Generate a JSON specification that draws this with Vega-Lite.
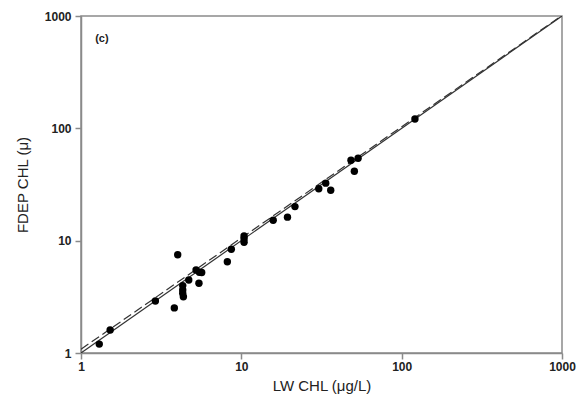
{
  "$schema": "https://vega.github.io/schema/vega-lite/v6.json",
  "autosize": "none",
  "width": 481,
  "height": 337,
  "padding": {"left": 81, "top": 16, "right": 16, "bottom": 59},
  "background": "white",
  "config": {
    "view": {"stroke": "#8a8a8a", "strokeWidth": 1.5},
    "font": "Liberation Sans",
    "axis": {
      "grid": false,
      "domainColor": "#8a8a8a",
      "domainWidth": 1.5,
      "tickColor": "#8a8a8a",
      "tickWidth": 1.5,
      "tickSize": 6,
      "labelFont": "Liberation Sans",
      "labelFontSize": 12,
      "labelFontWeight": "bold",
      "labelColor": "#222222",
      "titleFont": "Liberation Sans",
      "titleFontSize": 15,
      "titleFontWeight": "normal",
      "titleColor": "#222222"
    }
  },
  "datasets": {
    "pts": [
      {"lw": 1.30, "fdep": 1.20},
      {"lw": 1.52, "fdep": 1.60},
      {"lw": 2.91, "fdep": 2.90},
      {"lw": 3.82, "fdep": 2.52},
      {"lw": 4.01, "fdep": 7.50},
      {"lw": 4.31, "fdep": 3.98},
      {"lw": 4.31, "fdep": 3.64},
      {"lw": 4.31, "fdep": 3.40},
      {"lw": 4.35, "fdep": 3.17},
      {"lw": 4.70, "fdep": 4.47},
      {"lw": 5.22, "fdep": 5.48},
      {"lw": 5.47, "fdep": 5.23},
      {"lw": 5.66, "fdep": 5.20},
      {"lw": 5.44, "fdep": 4.18},
      {"lw": 8.18, "fdep": 6.50},
      {"lw": 8.66, "fdep": 8.38},
      {"lw": 10.4, "fdep": 11.0},
      {"lw": 10.4, "fdep": 10.4},
      {"lw": 10.4, "fdep": 9.68},
      {"lw": 15.8, "fdep": 15.2},
      {"lw": 19.4, "fdep": 16.2},
      {"lw": 21.6, "fdep": 20.1},
      {"lw": 30.4, "fdep": 29.0},
      {"lw": 33.6, "fdep": 32.5},
      {"lw": 36.1, "fdep": 28.1},
      {"lw": 48.3, "fdep": 52.0},
      {"lw": 53.5, "fdep": 54.2},
      {"lw": 50.7, "fdep": 41.5},
      {"lw": 121, "fdep": 121}
    ],
    "lines": [
      {"line": "1:1", "lw": 1, "fdep": 1},
      {"line": "1:1", "lw": 1000, "fdep": 1000},
      {"line": "fit", "lw": 1, "fdep": 1.08},
      {"line": "fit", "lw": 1000, "fdep": 1010}
    ],
    "label": [{"lw": 1.35, "fdep": 625, "text": "(c)"}]
  },
  "encoding": {
    "x": {
      "field": "lw", "type": "quantitative",
      "scale": {"type": "log", "domain": [1, 1000], "nice": false},
      "axis": {"values": [1, 10, 100, 1000], "format": "d", "title": "LW CHL (μg/L)", "labelPadding": 2, "titlePadding": 6, "labelFlush": false}
    },
    "y": {
      "field": "fdep", "type": "quantitative",
      "scale": {"type": "log", "domain": [1, 1000], "nice": false},
      "axis": {"values": [1, 10, 100, 1000], "format": "d", "title": "FDEP CHL (μ)", "labelPadding": 4, "titlePadding": 14, "labelFlush": false}
    }
  },
  "layer": [
    {
      "data": {"name": "lines"},
      "transform": [{"filter": "datum.line === '1:1'"}],
      "mark": {"type": "line", "color": "#333333", "strokeWidth": 1.2, "clip": true},
      "encoding": {}
    },
    {
      "data": {"name": "lines"},
      "transform": [{"filter": "datum.line === 'fit'"}],
      "mark": {"type": "line", "color": "#333333", "strokeWidth": 1.2, "strokeDash": [9, 4], "clip": true},
      "encoding": {}
    },
    {
      "data": {"name": "pts"},
      "mark": {"type": "circle", "color": "black", "opacity": 1, "size": 55}
    },
    {
      "data": {"name": "label"},
      "mark": {"type": "text", "fontWeight": "bold", "fontSize": 11, "color": "#222222"},
      "encoding": {"text": {"field": "text"}}
    }
  ]
}
